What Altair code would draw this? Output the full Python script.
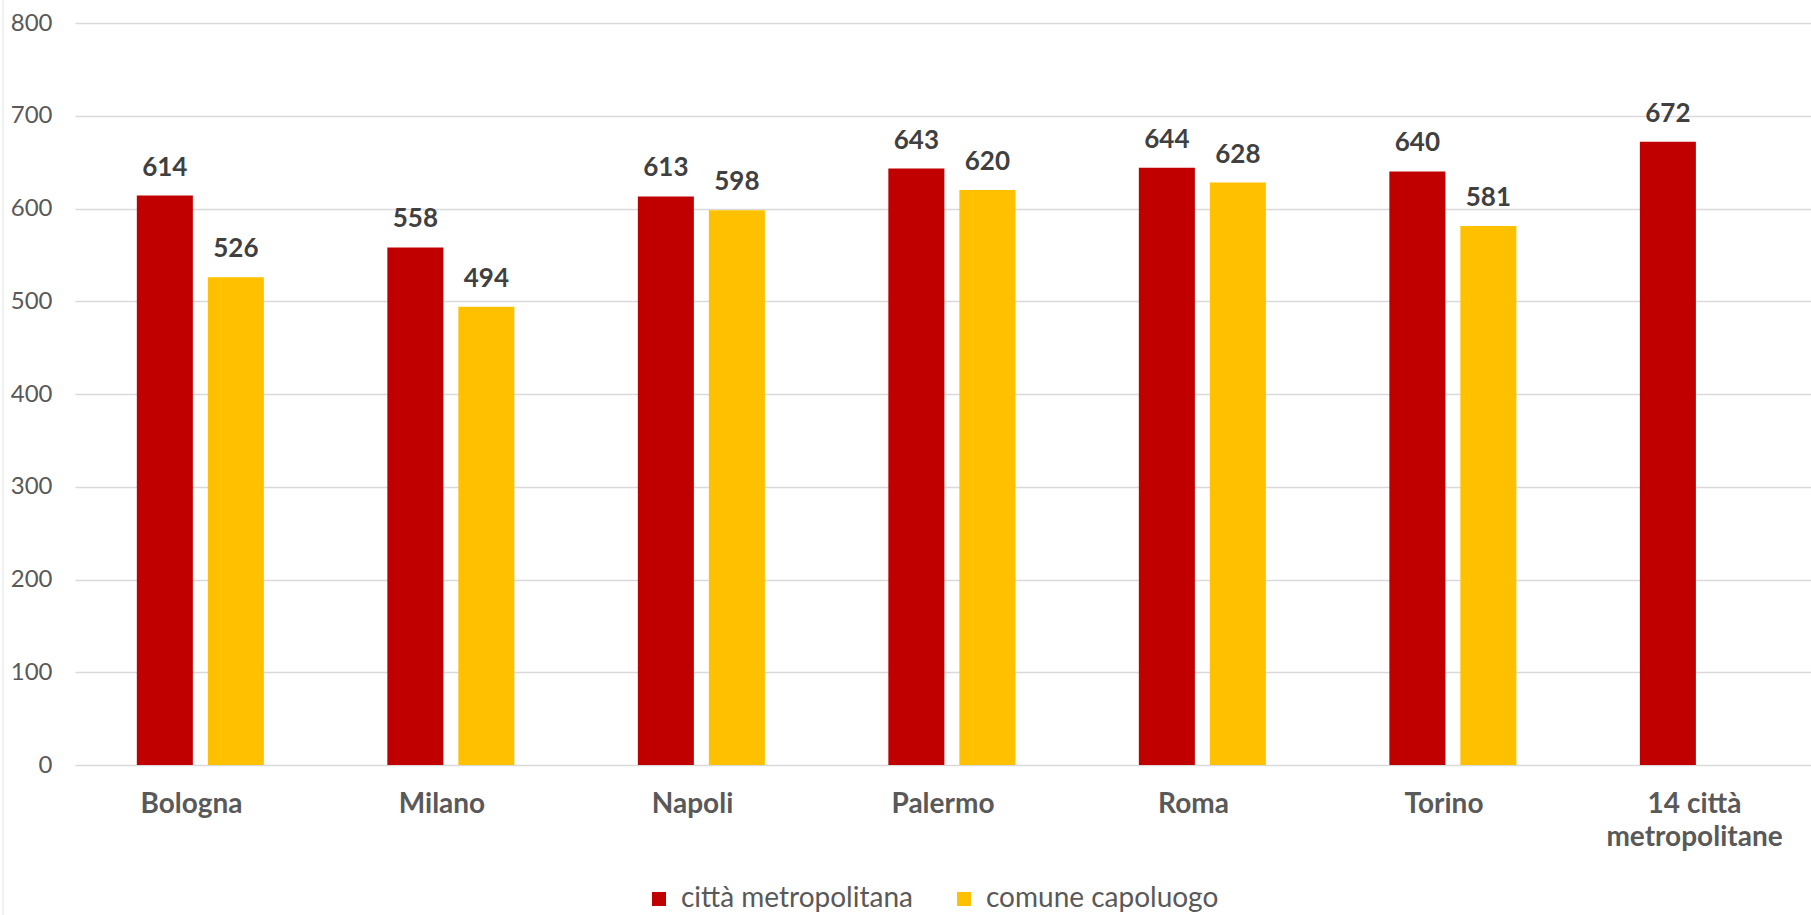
import altair as alt
import pandas as pd

# Categories and series values
cities = ["Bologna", "Milano", "Napoli", "Palermo", "Roma", "Torino", "14 città metropolitane"]
series = ["città metropolitana", "comune capoluogo"]
metro_values = [614, 558, 613, 643, 644, 640, 672]
capoluogo_values = [526, 494, 598, 620, 628, 581, None]
colors = ["#C00000", "#FFC000"]
y_ticks = [0, 100, 200, 300, 400, 500, 600, 700, 800]

rows = []
for city, m, c in zip(cities, metro_values, capoluogo_values):
    rows.append({"città": city, "serie": series[0], "valore": m})
    if c is not None:
        rows.append({"città": city, "serie": series[1], "valore": c})
df = pd.DataFrame(rows)

FONT = "Lato"

x_enc = alt.X(
    "città:N",
    sort=cities,
    scale=alt.Scale(paddingInner=0.1, paddingOuter=0.015, align=0.5, round=False),
    axis=alt.Axis(
        title=None,
        domain=False,
        ticks=False,
        labelAngle=0,
        labelFont=FONT,
        labelFontSize=28,
        labelFontWeight="bold",
        labelColor="#595959",
        labelPadding=25,
        labelBaseline="top",
        labelLineHeight=33,
        labelLimit=400,
        labelExpr="datum.value == '14 città metropolitane' ? ['14 città', 'metropolitane'] : datum.label",
    ),
)
xoff_enc = alt.XOffset(
    "serie:N",
    sort=series,
    scale=alt.Scale(domain=series, paddingInner=0.211, paddingOuter=0.693, align=0.59, round=False),
)
y_enc = alt.Y(
    "valore:Q",
    scale=alt.Scale(domain=[0, 800], nice=False),
    axis=alt.Axis(
        title=None,
        values=y_ticks,
        domain=False,
        ticks=False,
        grid=True,
        gridColor="#d9d9d9",
        gridWidth=1.3,
        labelFont=FONT,
        labelFontSize=24,
        labelColor="#595959",
        labelPadding=23,
    ),
)

base = alt.Chart(df)

bars = base.mark_bar().encode(
    x=x_enc,
    xOffset=xoff_enc,
    y=y_enc,
    color=alt.Color(
        "serie:N",
        sort=series,
        scale=alt.Scale(domain=series, range=colors),
        legend=alt.Legend(
            orient="none",
            legendX=570,
            legendY=862,
            direction="horizontal",
            title=None,
            symbolType="square",
            symbolSize=196,
            symbolStrokeWidth=0,
            labelFont=FONT,
            labelFontSize=28,
            labelColor="#595959",
            labelOffset=8,
            columnPadding=37,
            labelLimit=400,
            padding=0,
        ),
    ),
)

labels = base.mark_text(
    font=FONT,
    fontWeight="bold",
    fontSize=26,
    color="#404040",
    dy=-20,
    baseline="alphabetic",
).encode(
    x=x_enc,
    xOffset=xoff_enc,
    y=y_enc,
    text=alt.Text("valore:Q"),
)

# thin frame line along the left edge of the chart area
frame = alt.Chart(pd.DataFrame({"k": [0]})).mark_rule(color="#ececec", strokeWidth=1.5).encode(
    x=alt.value(-72), y=alt.value(-23), y2=alt.value(892)
)

chart = (
    alt.layer(bars, labels, frame)
    .properties(
        width=1736,
        height=742,
        autosize=alt.AutoSizeParams(type="none"),
        padding={"left": 75, "top": 23, "right": 0, "bottom": 150},
        background="white",
    )
    .configure_view(stroke=None)
)

chart.save("out.html", embed_options={"renderer": "svg", "actions": False})
